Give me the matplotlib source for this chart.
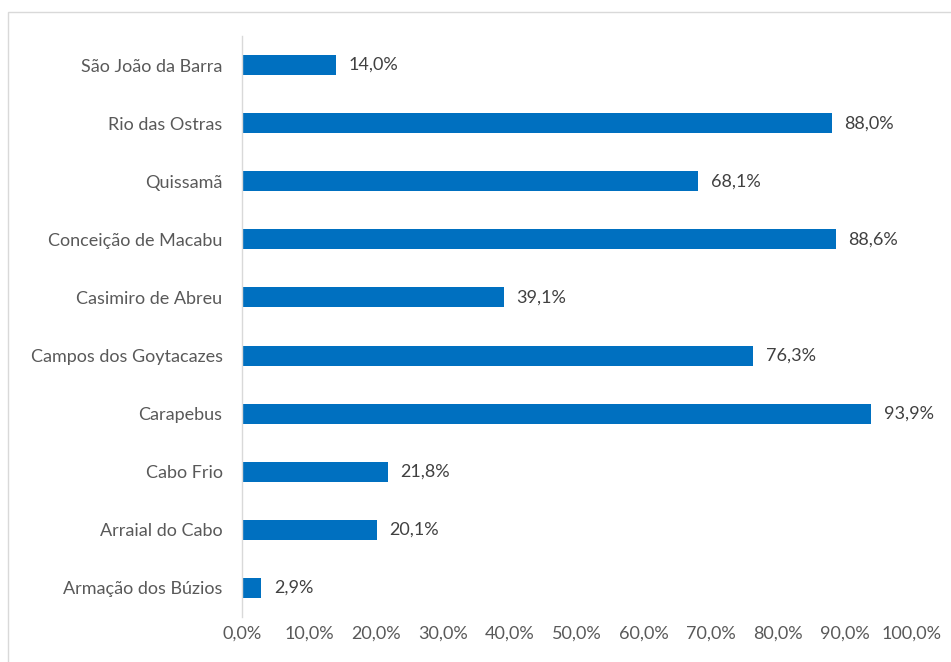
import matplotlib
matplotlib.use("Agg")
import matplotlib.pyplot as plt
from matplotlib.patches import Rectangle

categories = ["São João da Barra", "Rio das Ostras", "Quissamã", "Conceição de Macabu",
              "Casimiro de Abreu", "Campos dos Goytacazes", "Carapebus", "Cabo Frio",
              "Arraial do Cabo", "Armação dos Búzios"]
values = [14.0, 88.0, 68.1, 88.6, 39.1, 76.3, 93.9, 21.8, 20.1, 2.9]
xticks = [0, 10, 20, 30, 40, 50, 60, 70, 80, 90, 100]

plt.rcParams['font.family'] = ['Lato', 'DejaVu Sans']
FS = 13

W, H = 951, 662
fig = plt.figure(figsize=(W / 100, H / 100), dpi=100)
ax = fig.add_axes([242 / W, 1 - 617 / H, (912 - 242) / W, (617 - 36) / H])

ypos = list(range(len(categories)))
ax.barh(ypos, values, height=0.345, color="#0070C0")
ax.set_ylim(len(categories) - 0.5, -0.5)
ax.set_xlim(0, 100)
ax.set_yticks(ypos)
ax.set_yticklabels(categories, fontsize=FS, color="#595959")
ax.set_xticks(xticks)
ax.set_xticklabels([f"{v:.1f}%".replace(".", ",") for v in xticks], fontsize=FS, color="#595959")
ax.tick_params(axis="both", length=0)
ax.tick_params(axis="y", pad=14)
ax.tick_params(axis="x", pad=6)
for s in ["top", "right", "bottom"]:
    ax.spines[s].set_visible(False)
ax.spines["left"].set_color("#d9d9d9")
ax.spines["left"].set_linewidth(1)

for y, v in zip(ypos, values):
    ax.annotate(f"{v:.1f}%".replace(".", ","), xy=(v, y), xytext=(9, 0),
                textcoords="offset points", ha="left", va="center",
                fontsize=FS, color="#404040")

fig.patches.append(Rectangle((8 / W, -0.1), 1.2, 1 - 12 / H + 0.1, transform=fig.transFigure,
                             fill=False, edgecolor="#d9d9d9", linewidth=1))

fig.savefig("out.png", dpi=100)
